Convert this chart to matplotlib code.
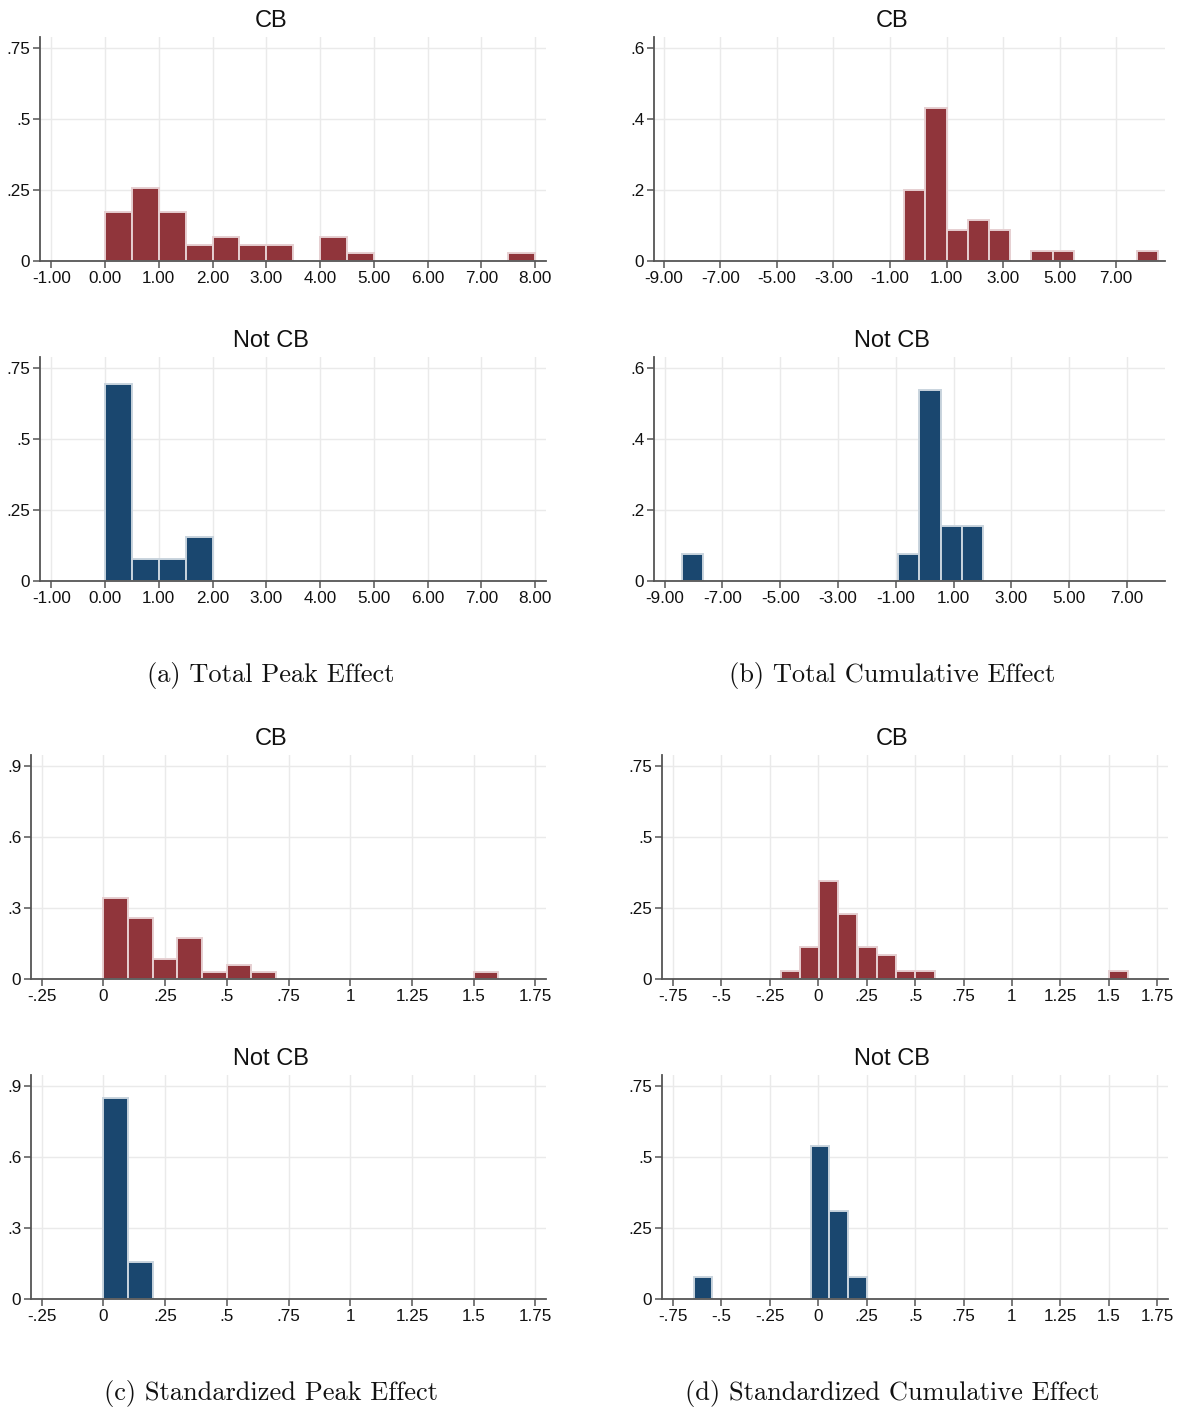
import matplotlib
matplotlib.use('Agg')
import matplotlib.pyplot as plt

plt.rcParams['font.family'] = ['Liberation Sans', 'DejaVu Sans']

# ---------------- data (fractions of observations per bin) ----------------
# (a) Total Peak Effect
a_cb_left = [0.0, 0.5, 1.0, 1.5, 2.0, 2.5, 3.0, 4.0, 4.5, 7.5]
a_cb_frac = [0.171, 0.257, 0.171, 0.057, 0.086, 0.057, 0.057, 0.086, 0.029, 0.029]
a_cb_width = 0.5
a_ncb_left = [0.0, 0.5, 1.0, 1.5]
a_ncb_frac = [0.692, 0.077, 0.077, 0.154]
a_ncb_width = 0.5

# (b) Total Cumulative Effect
b_cb_left = [-0.5, 0.25, 1.0, 1.75, 2.5, 4.0, 4.75, 7.75]
b_cb_frac = [0.200, 0.429, 0.086, 0.114, 0.086, 0.029, 0.029, 0.029]
b_cb_width = 0.75
b_ncb_left = [-8.41, -0.91, -0.18, 0.55, 1.28]
b_ncb_frac = [0.077, 0.077, 0.538, 0.154, 0.154]
b_ncb_width = 0.73

# (c) Standardized Peak Effect
c_cb_left = [0.0, 0.1, 0.2, 0.3, 0.4, 0.5, 0.6, 1.5]
c_cb_frac = [0.343, 0.257, 0.086, 0.171, 0.029, 0.057, 0.029, 0.029]
c_cb_width = 0.1
c_ncb_left = [0.0, 0.1]
c_ncb_frac = [0.846, 0.154]
c_ncb_width = 0.1

# (d) Standardized Cumulative Effect
d_cb_left = [-0.192, -0.094, 0.004, 0.103, 0.203, 0.303, 0.402, 0.501, 1.501]
d_cb_frac = [0.029, 0.114, 0.343, 0.229, 0.114, 0.086, 0.029, 0.029, 0.029]
d_cb_width = 0.0995
d_ncb_left = [-0.643, -0.040, 0.057, 0.153]
d_ncb_frac = [0.077, 0.538, 0.308, 0.077]
d_ncb_width = 0.0966

# tick values and labels
a_xticks = [-1, 0, 1, 2, 3, 4, 5, 6, 7, 8]
a_xlabels = ['-1.00', '0.00', '1.00', '2.00', '3.00', '4.00', '5.00', '6.00', '7.00', '8.00']
a_yticks = [0, 0.25, 0.5, 0.75]
a_ylabels = ['0', '.25', '.5', '.75']
b_xticks = [-9, -7, -5, -3, -1, 1, 3, 5, 7]
b_xlabels = ['-9.00', '-7.00', '-5.00', '-3.00', '-1.00', '1.00', '3.00', '5.00', '7.00']
b_yticks = [0, 0.2, 0.4, 0.6]
b_ylabels = ['0', '.2', '.4', '.6']
c_xticks = [-0.25, 0, 0.25, 0.5, 0.75, 1, 1.25, 1.5, 1.75]
c_xlabels = ['-.25', '0', '.25', '.5', '.75', '1', '1.25', '1.5', '1.75']
c_yticks = [0, 0.3, 0.6, 0.9]
c_ylabels = ['0', '.3', '.6', '.9']
d_xticks = [-0.75, -0.5, -0.25, 0, 0.25, 0.5, 0.75, 1, 1.25, 1.5, 1.75]
d_xlabels = ['-.75', '-.5', '-.25', '0', '.25', '.5', '.75', '1', '1.25', '1.5', '1.75']
d_yticks = [0, 0.25, 0.5, 0.75]
d_ylabels = ['0', '.25', '.5', '.75']

captions = ['(a) Total Peak Effect', '(b) Total Cumulative Effect',
            '(c) Standardized Peak Effect', '(d) Standardized Cumulative Effect']
group_titles = ['CB', 'Not CB']

# ---------------- styling ----------------
W, H = 1177, 1410
fig = plt.figure(figsize=(W / 100, H / 100), dpi=100)
fig.patch.set_facecolor('white')

RED, RED_EDGE = '#90353B', '#E6CFD1'
BLUE, BLUE_EDGE = '#1A476F', '#C9D4DE'
AXC = '#555555'
GRID = '#EAEAEA'


def px_axes(left, right, top, bottom):
    return fig.add_axes([left / W, 1 - bottom / H, (right - left) / W, (bottom - top) / H])


def draw(ax, lefts, fracs, width, fill, edge, xlim, ylim, xt, xl, yt, yl):
    ax.set_axisbelow(True)
    ax.bar(lefts, fracs, width=width, align='edge', color=fill,
           edgecolor=edge, linewidth=1.4, zorder=2)
    ax.set_xlim(*xlim)
    ax.set_ylim(*ylim)
    ax.set_xticks(xt)
    ax.set_xticklabels(xl)
    ax.set_yticks(yt)
    ax.set_yticklabels(yl)
    ax.grid(True, color=GRID, linewidth=1.0, zorder=0)
    for s in ['top', 'right']:
        ax.spines[s].set_visible(False)
    for s in ['left', 'bottom']:
        ax.spines[s].set_color(AXC)
        ax.spines[s].set_linewidth(1.3)
    ax.tick_params(axis='both', direction='out', length=5, width=1.1, color=AXC,
                   labelsize=12.3, labelcolor='#111111', pad=2)


panels = [
    dict(cb=(a_cb_left, a_cb_frac, a_cb_width), ncb=(a_ncb_left, a_ncb_frac, a_ncb_width),
         xl_cb=(-1.21, 8.2), xl_ncb=(-1.21, 8.2), ylim=(0, 0.787),
         ticks=(a_xticks, a_xlabels, a_yticks, a_ylabels), xpx=(40, 546), off=0, cx=271),
    dict(cb=(b_cb_left, b_cb_frac, b_cb_width), ncb=(b_ncb_left, b_ncb_frac, b_ncb_width),
         xl_cb=(-9.35, 8.73), xl_ncb=(-9.37, 8.32), ylim=(0, 0.630),
         ticks=(b_xticks, b_xlabels, b_yticks, b_ylabels), xpx=(654, 1165), off=0, cx=892),
    dict(cb=(c_cb_left, c_cb_frac, c_cb_width), ncb=(c_ncb_left, c_ncb_frac, c_ncb_width),
         xl_cb=(-0.293, 1.793), xl_ncb=(-0.293, 1.793), ylim=(0, 0.945),
         ticks=(c_xticks, c_xlabels, c_yticks, c_ylabels), xpx=(31, 546), off=718, cx=271),
    dict(cb=(d_cb_left, d_cb_frac, d_cb_width), ncb=(d_ncb_left, d_ncb_frac, d_ncb_width),
         xl_cb=(-0.807, 1.806), xl_ncb=(-0.807, 1.806), ylim=(0, 0.7876),
         ticks=(d_xticks, d_xlabels, d_yticks, d_ylabels), xpx=(662, 1168), off=718, cx=892),
]

for i, p in enumerate(panels):
    off = p['off']
    xt, xl, yt, yl = p['ticks']
    ax1 = px_axes(p['xpx'][0], p['xpx'][1], 37 + off, 261 + off)
    draw(ax1, *p['cb'], RED, RED_EDGE, p['xl_cb'], p['ylim'], xt, xl, yt, yl)
    ax2 = px_axes(p['xpx'][0], p['xpx'][1], 357 + off, 581 + off)
    draw(ax2, *p['ncb'], BLUE, BLUE_EDGE, p['xl_ncb'], p['ylim'], xt, xl, yt, yl)
    fig.text(p['cx'] / W, 1 - (27.3 + off) / H, group_titles[0], ha='center', va='baseline',
             fontsize=17, color='#111111')
    fig.text(p['cx'] / W, 1 - (347.3 + off) / H, group_titles[1], ha='center', va='baseline',
             fontsize=17, color='#111111')
    fig.text(p['cx'] / W, 1 - (682 + off) / H, captions[i], ha='center', va='baseline',
             fontsize=19, family='cmr10', color='#111111')

fig.savefig('out.png', dpi=100, facecolor='white')
